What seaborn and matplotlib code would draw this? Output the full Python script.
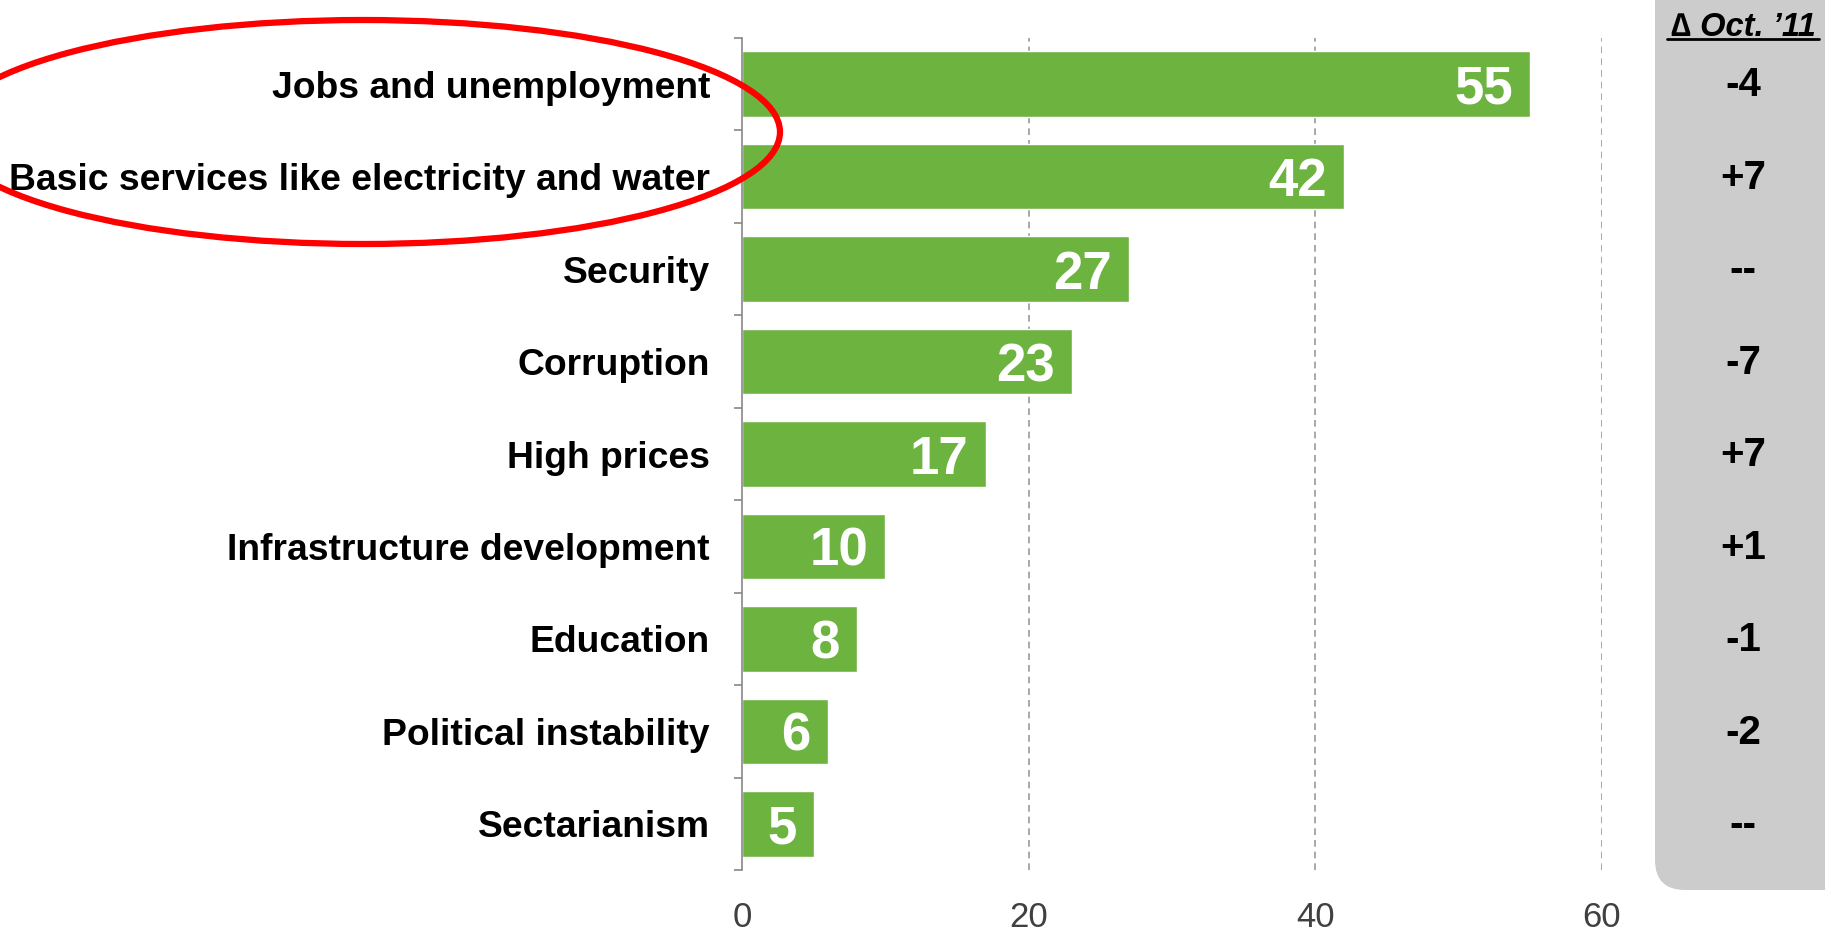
import pandas as pd
import seaborn as sns
import matplotlib.pyplot as plt
from matplotlib.patches import Ellipse, FancyBboxPatch
from matplotlib.lines import Line2D
import matplotlib.transforms as mtransforms

categories = ["Jobs and unemployment", "Basic services like electricity and water",
              "Security", "Corruption", "High prices", "Infrastructure development",
              "Education", "Political instability", "Sectarianism"]
values = [55, 42, 27, 23, 17, 10, 8, 6, 5]
changes = ["-4", "+7", "--", "-7", "+7", "+1", "-1", "-2", "--"]
change_header = "\u2206 Oct. \u201911"
x_ticks = [0, 20, 40, 60]

green = "#6db33f"

sns.set_style("white")
plt.rcParams['font.family'] = ['Liberation Sans', 'DejaVu Sans']

df = pd.DataFrame({"issue": categories, "pct": values})

fig = plt.figure(figsize=(18.25, 9.32), dpi=100)
# axes box in pixels: x 742..1602, y 38..870 (from top)
ax = fig.add_axes([742 / 1825, 62 / 932, 860 / 1825, 832 / 932])

sns.barplot(data=df, x="pct", y="issue", orient="h", color=green,
            saturation=1, width=0.71, ax=ax)

ax.set_xlim(0, 60)
ax.set_ylim(len(categories) - 0.5, -0.5)
ax.set_xlabel("")
ax.set_ylabel("")

# dashed vertical gridlines
for t in x_ticks[1:]:
    ax.axvline(t, color="#999999", linestyle=(0, (4, 3)), linewidth=1.2, zorder=0)

ax.set_xticks(x_ticks)
ax.set_xticklabels([str(t) for t in x_ticks], fontsize=25, color="#404040")
ax.tick_params(axis="x", length=0, pad=22)

# category labels, ticks at category boundaries
ax.set_yticks(range(len(categories)))
ax.set_yticklabels(categories, fontsize=26.8, fontweight="bold", color="black")
ax.tick_params(axis="y", which="major", left=True, length=0, pad=23)
ax.set_yticks([i - 0.5 for i in range(len(categories) + 1)], minor=True)
ax.tick_params(axis="y", which="minor", left=True, length=6, width=1.2,
               color="#888888", direction="out")

for side in ["top", "right", "bottom"]:
    ax.spines[side].set_visible(False)
ax.spines["left"].set_color("#888888")
ax.spines["left"].set_linewidth(1.2)

# value labels inside the bars
for i, v in enumerate(values):
    ax.text(v - 1.2, i, str(v), ha="right", va="center_baseline", fontsize=38,
            fontweight="bold", color="white")

# right-hand change panel
panel = FancyBboxPatch((16.55, 0.42), 2.2, 9.5,
                       boxstyle="round,pad=0,rounding_size=0.3",
                       transform=fig.dpi_scale_trans, facecolor="#cccccc",
                       edgecolor="none", zorder=0)
fig.add_artist(panel)

fig.text(17.43 / 18.25, 1 - 27 / 932, change_header, ha="center", va="center",
         fontsize=23.5, fontweight="bold", style="italic", color="black",
         family=['Liberation Sans', 'DejaVu Sans'])
fig.add_artist(Line2D([1667 / 1825, 1819 / 1825], [1 - 39 / 932, 1 - 39 / 932],
                      transform=fig.transFigure, color="black", linewidth=2))

trans = mtransforms.blended_transform_factory(fig.transFigure, ax.transData)
for i, c in enumerate(changes):
    ax.text(1743 / 1825, i - 0.03, c, transform=trans, ha="center", va="center_baseline",
            fontsize=29, fontweight="bold", color="black", clip_on=False)

# red highlight ellipse around the top two items
ell = Ellipse((363 / 1825, 1 - 132 / 932), 834 / 1825, 224 / 932,
              transform=fig.transFigure, fill=False, edgecolor="#ff0000",
              linewidth=4.5, zorder=10)
fig.add_artist(ell)

plt.savefig("out.png", dpi=100)
plt.close()
